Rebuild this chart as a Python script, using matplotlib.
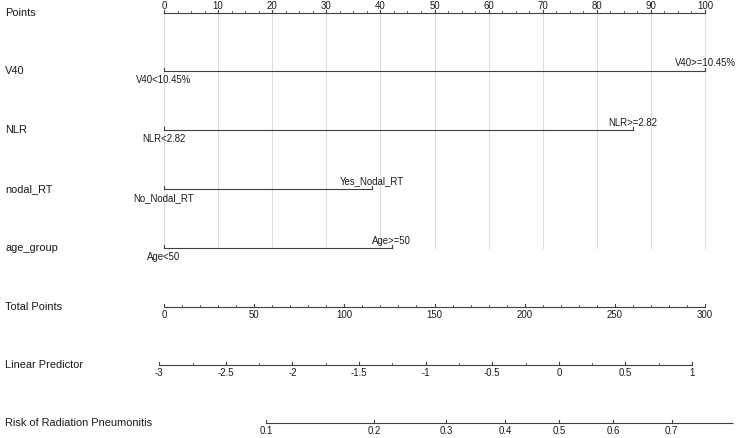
import numpy as np
import matplotlib
matplotlib.use('Agg')
import matplotlib.pyplot as plt
from matplotlib.transforms import blended_transform_factory

plt.rcParams['font.family'] = ['Liberation Sans', 'DejaVu Sans']

# rows of the nomogram
row_names = ['Points', 'V40', 'NLR', 'nodal_RT', 'age_group',
             'Total Points', 'Linear Predictor', 'Risk of Radiation Pneumonitis']

# predictors: low level sits at 0 points, high level at var_points
var_low = ['V40<10.45%', 'NLR<2.82', 'No_Nodal_RT', 'Age<50']
var_high = ['V40>=10.45%', 'NLR>=2.82', 'Yes_Nodal_RT', 'Age>=50']
var_points = [100, 86.6, 38.4, 42.1]

points_major = np.arange(0, 101, 10)
points_minor = np.arange(0, 100.1, 2.5)
total_major = np.arange(0, 301, 50)
total_minor = np.arange(0, 301, 10)
lp_major = [-3, -2.5, -2, -1.5, -1, -0.5, 0, 0.5, 1]
lp_minor = np.arange(-3, 1.01, 0.25)
# total points = lp_tp0 + lp_scale * linear predictor
lp_tp0 = 218.95
lp_scale = 73.85
risk_ticks = [0.1, 0.2, 0.3, 0.4, 0.5, 0.6, 0.7]
risk_end = 0.787

# layout (y in pixel rows)
row_y = [13, 71, 130, 189, 248, 307, 365, 423]
px_per_pt = 5.41
x0 = 164

fig = plt.figure(figsize=(7.38, 4.38), dpi=100)
ax = fig.add_axes([0, 0, 1, 1])
ax.set_xlim(-x0 / px_per_pt, (738 - x0) / px_per_pt)
ax.set_ylim(438, 0)
ax.axis('off')

lc = '#404040'
tc = '#1a1a1a'
fs_lab = 7.9
fs_tick = 6.9


def tp2x(tp):
    return np.asarray(tp, dtype=float) / 3.0


def lp2x(lp):
    return tp2x(lp_tp0 + lp_scale * np.asarray(lp, dtype=float))


def risk2x(p):
    p = np.asarray(p, dtype=float)
    return lp2x(np.log(p / (1 - p)))


def draw_scale(y, xs_major, labels, xs_minor, start, end, above=False, off=7.5):
    ax.plot([start, end], [y, y], color=lc, lw=0.8, solid_capstyle='butt')
    for xm in xs_minor:
        ax.plot([xm, xm], [y, y - 1.6], color=lc, lw=0.6)
    for xm, lab in zip(xs_major, labels):
        ax.plot([xm, xm], [y, y - 3], color=lc, lw=0.8)
        ax.text(xm, y - off if above else y + off, lab, ha='center', va='center',
                fontsize=fs_tick, color=tc)


# grid lines behind predictor rows
for xp in points_major:
    ax.plot([xp, xp], [row_y[0], row_y[4]], color='#dedede', lw=0.8, zorder=0)

# Points
draw_scale(row_y[0], points_major, [str(v) for v in points_major], points_minor,
           0, 100, above=True, off=7)

# predictors
for i in range(4):
    y = row_y[i + 1]
    p = var_points[i]
    ax.plot([0, p], [y, y], color=lc, lw=0.8)
    ax.plot([0, 0], [y, y - 3], color=lc, lw=0.8)
    ax.plot([p, p], [y, y - 3], color=lc, lw=0.8)
    ax.text(0, y + 9, var_low[i], ha='center', va='center', fontsize=fs_tick, color=tc)
    ax.text(p, y - 7.5, var_high[i], ha='center', va='center', fontsize=fs_tick, color=tc)

# Total Points
draw_scale(row_y[5], tp2x(total_major), [str(v) for v in total_major], tp2x(total_minor),
           0, tp2x(300))

# Linear Predictor
draw_scale(row_y[6], lp2x(lp_major), ['%g' % v for v in lp_major], lp2x(lp_minor),
           lp2x(-3), lp2x(1))

# Risk
draw_scale(row_y[7], risk2x(risk_ticks), ['%g' % v for v in risk_ticks], [],
           risk2x(risk_ticks[0]), risk2x(risk_end), off=8)

trans = blended_transform_factory(fig.transFigure, ax.transData)
for name, y in zip(row_names, row_y):
    ax.text(5 / 738, y, name, transform=trans, ha='left', va='center',
            fontsize=fs_lab, color=tc)

fig.savefig('out.png', dpi=100)
